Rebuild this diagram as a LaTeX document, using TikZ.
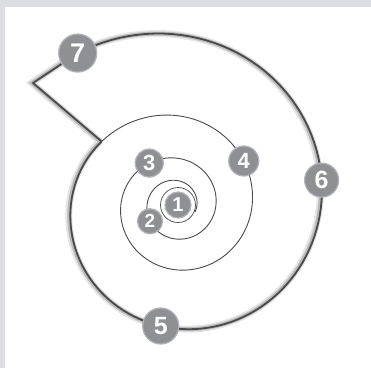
\documentclass[tikz,border=0pt]{standalone}
\usepackage{fontspec}
\setmainfont{Liberation Sans}
\usepackage{tikz}
\usetikzlibrary{calc}
\definecolor{sframe}{HTML}{DCDDE0}
\definecolor{sline}{HTML}{4A4A4D}
\definecolor{snode}{HTML}{8F9094}
\definecolor{sedge}{HTML}{B2B3B6}
\tikzset{
  numdot/.style={circle, fill=snode, draw=sedge, line width=1.2pt,
                 text=white, inner sep=0pt},
  inner/.style={draw=sline, line width=0.9pt},
  shell/.style={draw=sline, line width=1.8pt, line join=round,
    preaction={draw=black, opacity=.10, line width=7pt, transform canvas={xshift=-1.5pt}},
    preaction={draw=black, opacity=.18, line width=4pt, transform canvas={xshift=-1pt}}},
}
% radius of the shell spiral at angle #1
\newcommand\shellr[1]{34*exp(0.1613*((#1)-270)/90)}

\begin{document}
\begin{tikzpicture}[x=1pt, y=1pt]
  \useasboundingbox (-176,-163) rectangle (195,205);
  \fill[sframe] (-176,-163) rectangle (195,205);
  \fill[white] (-171,-163) rectangle (195,198);

  \coordinate (junc) at (859.5:{\shellr{859.5}});
  \coordinate (tip) at (-143,122);

  % inner turns
  \draw[inner] plot[domain=-20:859.5, samples=260, variable=\t] (\t:{\shellr{\t}});
  % outer wall
  \draw[shell] plot[domain=859.5:1202.9, samples=120, variable=\t] (\t:{\shellr{\t}})
    -- (tip) -- (junc);

  \node[numdot, minimum size=26pt, font=\bfseries\fontsize{20}{20}\selectfont]
    (p1) at (2,0) {1};
  \draw[sline, line width=0.7pt] (p1.center) circle (17.5);
  \node[numdot, minimum size=25pt, font=\bfseries\fontsize{19}{19}\selectfont]
    (p2) at (212:{\shellr{212}}) {2};
  \node[numdot, minimum size=28pt, font=\bfseries\fontsize{22}{22}\selectfont]
    (p3) at (482.5:{\shellr{482.5}}) {3};
  \node[numdot, minimum size=30pt, font=\bfseries\fontsize{22}{22}\selectfont]
    (p4) at (753:{\shellr{753}}) {4};
  \node[numdot, minimum size=36pt, font=\bfseries\fontsize{25}{25}\selectfont]
    (p5) at (982.8:{\shellr{982.8}}) {5};
  \node[numdot, minimum size=34pt, font=\bfseries\fontsize{25}{25}\selectfont]
    (p6) at (1089.7:{\shellr{1089.7}}) {6};
  \node[numdot, minimum size=38pt, font=\bfseries\fontsize{27}{27}\selectfont]
    (p7) at (1202.9:{\shellr{1202.9}}) {7};
\end{tikzpicture}
\end{document}
